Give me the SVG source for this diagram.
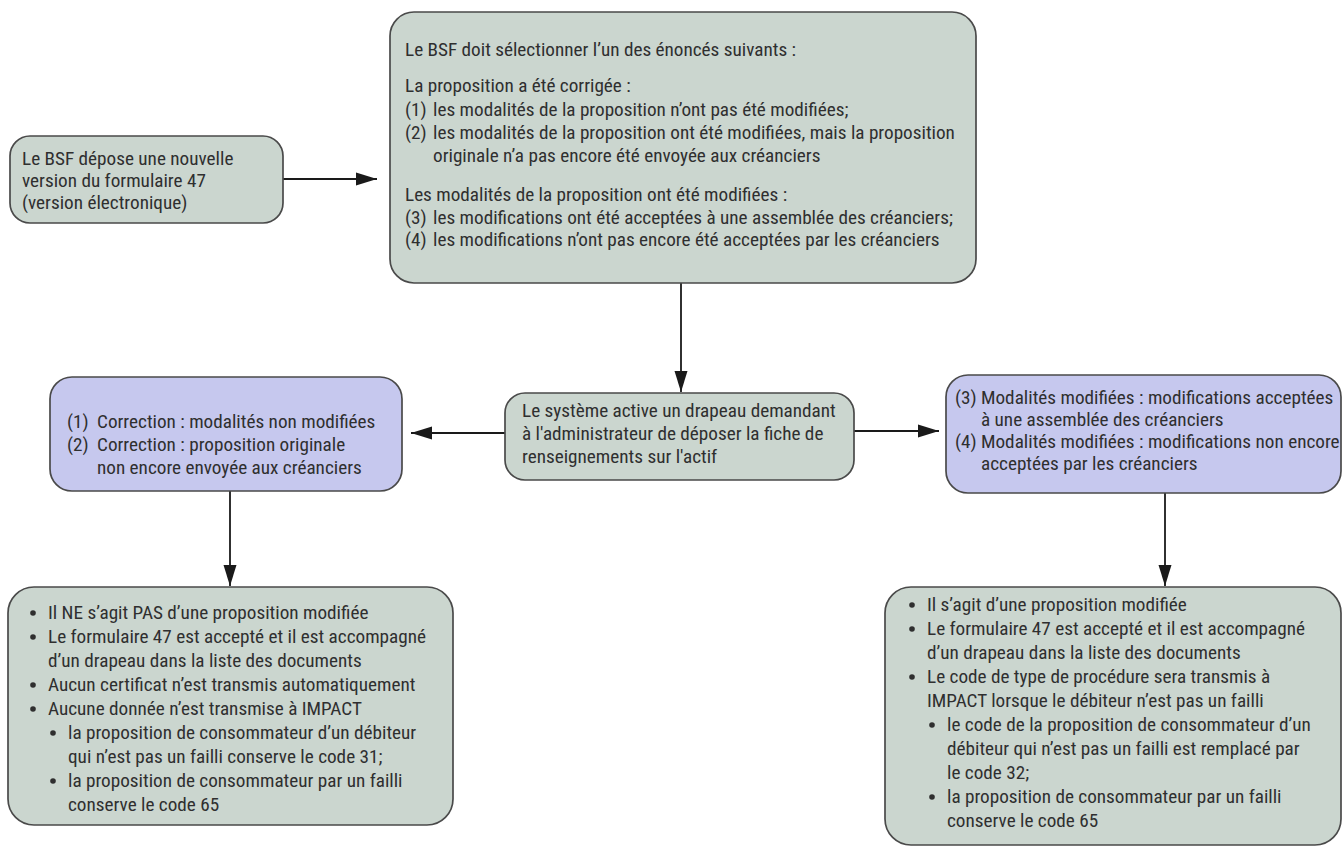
<svg xmlns="http://www.w3.org/2000/svg" width="1344" height="847" viewBox="0 0 1344 847">
<style>
  .box { fill: #cbd6cf; stroke: #4a4a4a; stroke-width: 1.7; }
  .blue { fill: #c6c8ee; stroke: #4a4a4a; stroke-width: 1.7; }
  text { font-family: "Liberation Sans Narrow", "Roboto Condensed", "Liberation Sans", sans-serif; font-size: 19.2px; fill: #2f2f2f; }
  .dot { fill: #2f2f2f; }
  .conn { stroke: #1a1a1a; stroke-width: 1.8; fill: none; marker-end: url(#ah); }
</style>
<defs>
  <marker id="ah" markerUnits="userSpaceOnUse" markerWidth="22" markerHeight="16" refX="21" refY="7.5" orient="auto">
    <path d="M0,1 L21,7.5 L0,14 z" fill="#1a1a1a"/>
  </marker>
</defs>
<rect width="1344" height="847" fill="#ffffff"/>
<g id="connectors">
  <path class="conn" d="M283,179 H377"/>
  <path class="conn" d="M681,283 V392"/>
  <path class="conn" d="M505,433 H411"/>
  <path class="conn" d="M854,431 H939"/>
  <path class="conn" d="M230,491 V586"/>
  <path class="conn" d="M1165,493 V586"/>
</g>
<g id="node-a">
  <rect class="box" x="10" y="136" width="273" height="87" rx="20"/>
  <text x="22" y="165">Le BSF dépose une nouvelle</text>
  <text x="22" y="187">version du formulaire 47</text>
  <text x="22" y="209">(version électronique)</text>
</g>
<g id="node-b">
  <rect class="box" x="390" y="12" width="586" height="271" rx="24"/>
  <text x="405" y="56">Le BSF doit sélectionner l’un des énoncés suivants :</text>
  <text x="405" y="92">La proposition a été corrigée :</text>
  <text x="405" y="116">(1)</text><text x="433" y="116">les modalités de la proposition n’ont pas été modifiées;</text>
  <text x="405" y="139">(2)</text><text x="433" y="139">les modalités de la proposition ont été modifiées, mais la proposition</text>
  <text x="433" y="162">originale n’a pas encore été envoyée aux créanciers</text>
  <text x="405" y="201">Les modalités de la proposition ont été modifiées :</text>
  <text x="405" y="224">(3)</text><text x="433" y="224">les modifications ont été acceptées à une assemblée des créanciers;</text>
  <text x="405" y="246">(4)</text><text x="433" y="246">les modifications n’ont pas encore été acceptées par les créanciers</text>
</g>
<g id="node-c">
  <rect class="box" x="505" y="393" width="349" height="87" rx="20"/>
  <text x="522" y="417">Le système active un drapeau demandant</text>
  <text x="522" y="440">à l'administrateur de déposer la fiche de</text>
  <text x="522" y="463">renseignements sur l'actif</text>
</g>
<g id="node-d">
  <rect class="blue" x="50" y="377" width="352" height="114" rx="22"/>
  <text x="67" y="428">(1)</text><text x="97" y="428">Correction : modalités non modifiées</text>
  <text x="67" y="451">(2)</text><text x="97" y="451">Correction : proposition originale</text>
  <text x="97" y="474">non encore envoyée aux créanciers</text>
</g>
<g id="node-e">
  <rect class="blue" x="946" y="375" width="395" height="118" rx="22"/>
  <text x="955" y="404">(3)</text><text x="981" y="404">Modalités modifiées : modifications acceptées</text>
  <text x="981" y="426">à une assemblée des créanciers</text>
  <text x="955" y="448">(4)</text><text x="981" y="448">Modalités modifiées : modifications non encore</text>
  <text x="981" y="470">acceptées par les créanciers</text>
</g>
<g id="node-f">
  <rect class="box" x="8" y="587" width="445" height="238" rx="26"/>
  <circle class="dot" cx="33" cy="613" r="2.8"/><text x="48" y="619">Il NE s’agit PAS d’une proposition modifiée</text>
  <circle class="dot" cx="33" cy="637" r="2.8"/><text x="48" y="643">Le formulaire 47 est accepté et il est accompagné</text>
  <text x="48" y="667">d’un drapeau dans la liste des documents</text>
  <circle class="dot" cx="33" cy="685" r="2.8"/><text x="48" y="691">Aucun certificat n’est transmis automatiquement</text>
  <circle class="dot" cx="33" cy="709" r="2.8"/><text x="48" y="715">Aucune donnée n’est transmise à IMPACT</text>
  <circle class="dot" cx="53" cy="733" r="2.8"/><text x="68" y="739">la proposition de consommateur d’un débiteur</text>
  <text x="68" y="763">qui n’est pas un failli conserve le code 31;</text>
  <circle class="dot" cx="53" cy="781" r="2.8"/><text x="68" y="787">la proposition de consommateur par un failli</text>
  <text x="68" y="811">conserve le code 65</text>
</g>
<g id="node-g">
  <rect class="box" x="885" y="587" width="456" height="258" rx="26"/>
  <circle class="dot" cx="912" cy="605" r="2.8"/><text x="927" y="611">Il s’agit d’une proposition modifiée</text>
  <circle class="dot" cx="912" cy="629" r="2.8"/><text x="927" y="635">Le formulaire 47 est accepté et il est accompagné</text>
  <text x="927" y="659">d’un drapeau dans la liste des documents</text>
  <circle class="dot" cx="912" cy="677" r="2.8"/><text x="927" y="683">Le code de type de procédure sera transmis à</text>
  <text x="927" y="707">IMPACT lorsque le débiteur n’est pas un failli</text>
  <circle class="dot" cx="932" cy="725" r="2.8"/><text x="947" y="731">le code de la proposition de consommateur d’un</text>
  <text x="947" y="755">débiteur qui n’est pas un failli est remplacé par</text>
  <text x="947" y="779">le code 32;</text>
  <circle class="dot" cx="932" cy="797" r="2.8"/><text x="947" y="803">la proposition de consommateur par un failli</text>
  <text x="947" y="827">conserve le code 65</text>
</g>
</svg>
